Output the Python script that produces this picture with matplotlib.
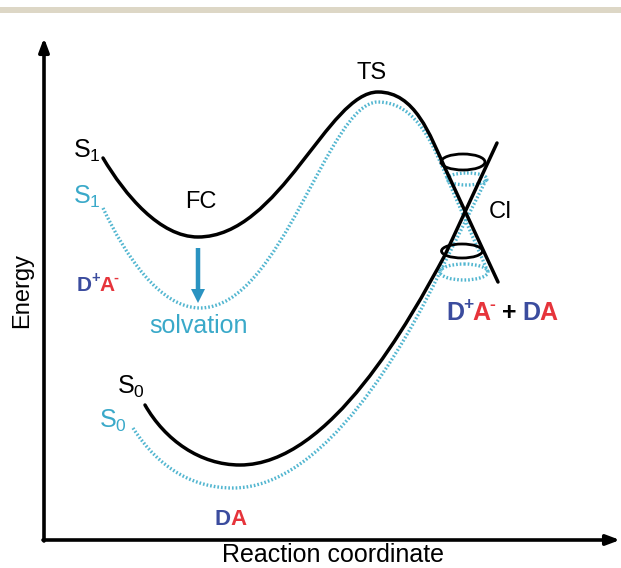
import matplotlib.pyplot as plt
from matplotlib.path import Path
from matplotlib.patches import PathPatch, Ellipse, FancyArrow

plt.rcParams['font.family'] = ['Liberation Sans', 'DejaVu Sans']
plt.rcParams['mathtext.fontset'] = 'custom'
plt.rcParams['mathtext.rm'] = 'Liberation Sans'

# schematic potential curves, in picture pixel units (x right, y down)
# each curve: start point, then cubic bezier triples, then a straight tail
s1_solid = [(103, 158), (125, 195), (160, 237), (198, 237),
            (280, 237), (328, 92), (378, 92),
            (415, 92), (430, 135), (445, 168), (498, 282)]
s1_dotted = [(103, 208), (125, 255), (160, 308), (200, 308),
             (282, 308), (328, 102), (378, 102),
             (418, 102), (435, 150), (448, 180), (488, 272)]
s0_solid = [(145, 405), (165, 440), (200, 465), (240, 465),
            (330, 465), (410, 320), (445, 255), (497, 143)]
s0_dotted = [(133, 428), (160, 470), (195, 488), (233, 488),
             (325, 488), (405, 345), (440, 272), (487, 178)]

# conical intersection rings: centre x, centre y, width, height
cone_solid = [(463, 162, 44, 16), (462, 251, 41, 14)]
cone_dotted = [(467, 179, 40, 12), (464, 272, 48, 16)]

BLUE = '#3b4c9e'
RED = '#e6343b'
CYAN = '#3aa9c9'
DOTS = '#52b6d0'
ARROW = '#2a93c1'


def curve_path(pts):
    n_bez = (len(pts) - 2) // 3
    codes = [Path.MOVETO] + [Path.CURVE4] * (3 * n_bez) + [Path.LINETO]
    return Path(pts, codes)


def chain(ax, renderer, x, y, pieces, size):
    """Write coloured pieces one after another on one baseline (1 unit = 1 px)."""
    for txt, col, sup in pieces:
        fs = size * 0.7 if sup else size
        yy = y - size * 0.62 if sup else y
        t = ax.text(x, yy, txt, color=col, fontsize=fs, fontweight='bold',
                    ha='left', va='baseline')
        x += t.get_window_extent(renderer).width - (0.5 if sup else size * 0.06)


fig = plt.figure(figsize=(6.21, 5.68), dpi=100)
ax = fig.add_axes([0, 0, 1, 1])
ax.set_xlim(0, 621)
ax.set_ylim(568, 0)
ax.axis('off')
renderer = fig.canvas.get_renderer()

# beige band at the top
ax.axhspan(7, 13, color='#ddd7c6', lw=0)

# axes with arrow heads
ax.annotate('', xy=(44, 38), xytext=(44, 541),
            arrowprops=dict(arrowstyle='-|>,head_width=0.3,head_length=0.8',
                            color='black', lw=2.6, shrinkA=0, shrinkB=0))
ax.annotate('', xy=(620, 540), xytext=(43, 540),
            arrowprops=dict(arrowstyle='-|>,head_width=0.3,head_length=0.8',
                            color='black', lw=2.6, shrinkA=0, shrinkB=0))

# dotted (solvated) curves first, solid curves on top
dot_style = dict(fill=False, edgecolor=DOTS, lw=2.4, linestyle=(0, (0.5, 0.6)),
                 capstyle='butt')
for pts in (s1_dotted, s0_dotted):
    ax.add_patch(PathPatch(curve_path(pts), **dot_style))
for cx, cy, w, h in cone_dotted:
    ax.add_patch(Ellipse((cx, cy), w, h, **dot_style))

for pts in (s1_solid, s0_solid):
    ax.add_patch(PathPatch(curve_path(pts), fill=False, edgecolor='black', lw=2.5,
                           capstyle='round'))
for cx, cy, w, h in cone_solid:
    ax.add_patch(Ellipse((cx, cy), w, h, fill=False, edgecolor='black', lw=2.0))

# solvation arrow
ax.add_patch(FancyArrow(198, 248, 0, 55, width=4.5, head_width=14, head_length=14,
                        length_includes_head=True, color=ARROW, lw=0))

# labels
ax.text(73, 158, r'$\mathregular{S_1}$', fontsize=18, color='black', va='baseline')
ax.text(73, 204, r'$\mathregular{S_1}$', fontsize=18, color=CYAN, va='baseline')
ax.text(117, 394, r'$\mathregular{S_0}$', fontsize=18, color='black', va='baseline')
ax.text(99, 428, r'$\mathregular{S_0}$', fontsize=18, color=CYAN, va='baseline')
ax.text(201, 202, 'FC', fontsize=17, ha='center', va='center')
ax.text(372, 73, 'TS', fontsize=17, ha='center', va='center')
ax.text(500, 212, 'CI', fontsize=17, ha='center', va='center')
ax.text(199, 326, 'solvation', fontsize=18, color=CYAN, ha='center', va='center')
ax.text(22, 290, 'Energy', fontsize=17, rotation=90, ha='center', va='center')
ax.text(333, 555, 'Reaction coordinate', fontsize=18, ha='center', va='center')

chain(ax, renderer, 77, 291, [('D', BLUE, False), ('+', BLUE, True), ('A', RED, False),
                              ('-', RED, True)], 15)
chain(ax, renderer, 446, 320, [('D', BLUE, False), ('+', BLUE, True), ('A', RED, False),
                               ('-', RED, True), (' + ', 'black', False),
                               ('D', BLUE, False), ('A', RED, False)], 18)
chain(ax, renderer, 215, 525, [('D', BLUE, False), ('A', RED, False)], 16)

fig.savefig('out.png', dpi=100)
